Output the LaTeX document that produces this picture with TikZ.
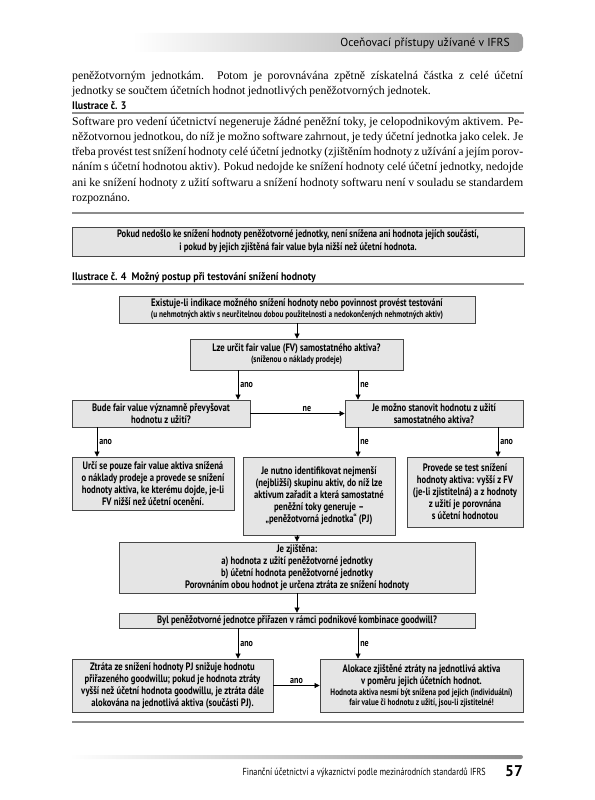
\documentclass[tikz,border=0pt]{standalone}
\usepackage{fontspec}
\setmainfont[WordSpace={0.85,1.3,1.7}]{Liberation Serif}
\newfontfamily\cnd[FakeStretch=0.8]{PT Sans}
\newfontfamily\cndc[FakeStretch=0.9]{PT Sans}
\newfontfamily\hdr{PT Sans}
\usetikzlibrary{arrows.meta}
\newcommand\smf{\fontsize{9.2}{10}\selectfont}
\newcommand\bodyf{\fontsize{11.8}{15}\selectfont}
\begin{document}
\begin{tikzpicture}[x=1pt,y=-1pt,
  box/.style={draw=black!72, fill=black!10, line width=0.8pt, inner sep=1pt, align=center,
     font=\cnd\bfseries\fontsize{10.8}{12}\selectfont},
  arr/.style={line width=0.7pt, -{Triangle[length=5pt,width=5pt]}},
  lbl/.style={font=\cnd\bfseries\fontsize{10}{11}\selectfont, inner sep=2pt},
  rule/.style={draw=black!45, line width=1.8pt},
  bline/.style={anchor=base west, inner sep=0pt, font=\bodyf},
  captxt/.style={anchor=base west, inner sep=0pt, font=\cndc\bfseries\fontsize{11}{12}\selectfont}]
\useasboundingbox (0,0) rectangle (594,800);
% header
\shade[left color=white, right color=black!38] (133,33) [rounded corners=5pt] -- (523,33) -- (523,52) [sharp corners] -- (133,52) -- cycle;
\node[anchor=base east, inner sep=0pt, font=\hdr\fontsize{11.6}{14}\selectfont] (hd) at (510,47) {Oceňovací přístupy užívané v IFRS};
% paragraph 1
\node[bline] (p1) at (72,79) {\makebox[451pt][s]{peněžotvorným jednotkám. Potom je porovnávána zpětně získatelná částka z celé účetní}};
\node[bline] (p2) at (72,94.3) {jednotky se součtem účetních hodnot jednotlivých peněžotvorných jednotek.};
% illustration 3
\node[captxt] (c3) at (72,109) {Ilustrace č. 3};
\draw[rule] (72,113) -- (524,113);
\node[bline] (q1) at (72,125) {\makebox[451pt][s]{Software pro vedení účetnictví negeneruje žádné peněžní toky, je celopodnikovým aktivem. Pe-}};
\node[bline] (q2) at (72,140.3) {\makebox[451pt][s]{něžotvornou jednotkou, do níž je možno software zahrnout, je tedy účetní jednotka jako celek. Je}};
\node[bline] (q3) at (72,155.6) {\makebox[451pt][s]{třeba provést test snížení hodnoty celé účetní jednotky (zjištěním hodnoty z užívání a jejím porov-}};
\node[bline] (q4) at (72,170.9) {\makebox[451pt][s]{náním s účetní hodnotou aktiv). Pokud nedojde ke snížení hodnoty celé účetní jednotky, nedojde}};
\node[bline] (q5) at (72,186.2) {\makebox[451pt][s]{ani ke snížení hodnoty z užití softwaru a snížení hodnoty softwaru není v souladu se standardem}};
\node[bline] (q6) at (72,201.5) {rozpoznáno.};
\draw[rule] (72,213) -- (524,213);
% notice box
\node[box, minimum width=452pt, minimum height=29pt, font=\cnd\bfseries\fontsize{10.7}{13}\selectfont] (note) at (298,241.5)
  {Pokud nedošlo ke snížení hodnoty peněžotvorné jednotky, není snížena ani hodnota jejích součástí,\\i pokud by jejich zjištěná fair value byla nižší než účetní hodnota.};
% illustration 4
\node[captxt] (c4) at (72,280) {Ilustrace č. 4\ \ Možný postup při testování snížení hodnoty};
\draw[rule] (72,284) -- (524,284);
% flowchart
\coordinate (xc) at (297,0);
\coordinate (xa) at (238,0);
\coordinate (xb) at (358,0);
\coordinate (xe) at (97,0);
\coordinate (xg) at (498,0);
\node[box, minimum width=356pt, minimum height=27pt] (A) at (297,309.5)
  {Existuje-li indikace možného snížení hodnoty nebo povinnost provést testování\\[-1pt]{\smf (u nehmotných aktiv s neurčitelnou dobou použitelnosti a nedokončených nehmotných aktiv)}};
\node[box, minimum width=213pt, minimum height=31pt] (B) at (296.5,354.5)
  {Lze určit fair value (FV) samostatného aktiva?\\[-1pt]{\smf (sníženou o náklady prodeje)}};
\node[box, minimum width=178pt, minimum height=27pt] (C) at (161,413.5)
  {Bude fair value významně převyšovat\\hodnotu z užití?};
\node[box, minimum width=178pt, minimum height=27pt] (D) at (434,413.5)
  {Je možno stanovit hodnotu z užití\\samostatného aktiva?};
\node[box, minimum width=162pt, minimum height=53pt] (E) at (153,483.5)
  {Určí se pouze fair value aktiva snížená\\o náklady prodeje a provede se snížení\\hodnoty aktiva, ke kterému dojde, je-li\\FV nižší než účetní ocenění.};
\node[box, minimum width=152pt, minimum height=78pt] (F) at (319,496)
  {Je nutno identifikovat nejmenší\\(nejbližší) skupinu aktiv, do níž lze\\aktivum zařadit a která samostatné\\peněžní toky generuje –\\„peněžotvorná jednotka“ (PJ)};
\node[box, minimum width=116pt, minimum height=70pt] (G) at (465,492)
  {Provede se test snížení\\hodnoty aktiva: vyšší z FV\\(je-li zjistitelná) a z hodnoty\\z užití je porovnána\\s účetní hodnotou};
\node[box, minimum width=356pt, minimum height=51pt] (H) at (297,567.5)
  {Je zjištěna:\\a) hodnota z užití peněžotvorné jednotky\\b) účetní hodnota peněžotvorné jednotky\\Porovnáním obou hodnot je určena ztráta ze snížení hodnoty};
\node[box, minimum width=356pt, minimum height=15pt] (I) at (297,620.5)
  {Byl peněžotvorné jednotce přiřazen v rámci podnikové kombinace goodwill?};
\node[box, minimum width=201pt, minimum height=53pt] (J) at (172.5,685.5)
  {Ztráta ze snížení hodnoty PJ snižuje hodnotu\\přiřazeného goodwillu; pokud je hodnota ztráty\\vyšší než účetní hodnota goodwillu, je ztráta dále\\alokována na jednotlivá aktiva (součásti PJ).};
\node[box, minimum width=203pt, minimum height=53pt] (K) at (421.5,685.5)
  {Alokace zjištěné ztráty na jednotlivá aktiva\\v poměru jejich účetních hodnot.\\[-1pt]{\smf Hodnota aktiva nesmí být snížena pod jejich (individuální)}\\[-2pt]{\smf fair value či hodnotu z užití, jsou-li zjistitelné!}};
% connectors
\draw[arr] (A.south -| xc) -- (B.north -| xc);
\draw[arr] (B.south -| xa) -- node[lbl, right] {ano} (C.north -| xa);
\draw[arr] (B.south -| xb) -- node[lbl, right] {ne} (D.north -| xb);
\draw[arr] (C.east) -- node[lbl, above, pos=0.6] {ne} (D.west);
\draw[arr] (C.south -| xe) -- node[lbl, right] {ano} (E.north -| xe);
\draw[arr] (D.south -| xb) -- node[lbl, right] {ne} (F.north -| xb);
\draw[arr] (D.south -| xg) -- node[lbl, right] {ano} (G.north -| xg);
\draw[arr] (F.south -| xc) -- (H.north -| xc);
\draw[arr] (H.south -| xc) -- (I.north -| xc);
\draw[arr] (I.south -| xa) -- node[lbl, right] {ano} (J.north -| xa);
\draw[arr] (I.south -| xb) -- node[lbl, right] {ne} (K.north -| xb);
\draw[arr] (J.east) -- node[lbl, above] {ano} (K.west);
\draw[rule] (72,722) -- (524,722);
% footer
\shade[left color=white, right color=black!45] (70,755) [rounded corners=2pt] -- (523,755) -- (523,759) [sharp corners] -- (70,759) -- cycle;
\node[anchor=base east, inner sep=0pt, font=\cnd\fontsize{10.2}{12}\selectfont] (ft) at (486,775) {Finanční účetnictví a výkaznictví podle mezinárodních standardů IFRS};
\node[anchor=base east, inner sep=0pt, font=\hdr\bfseries\fontsize{15.5}{17}\selectfont] (pg) at (523,776.5) {57};
\end{tikzpicture}
\end{document}
